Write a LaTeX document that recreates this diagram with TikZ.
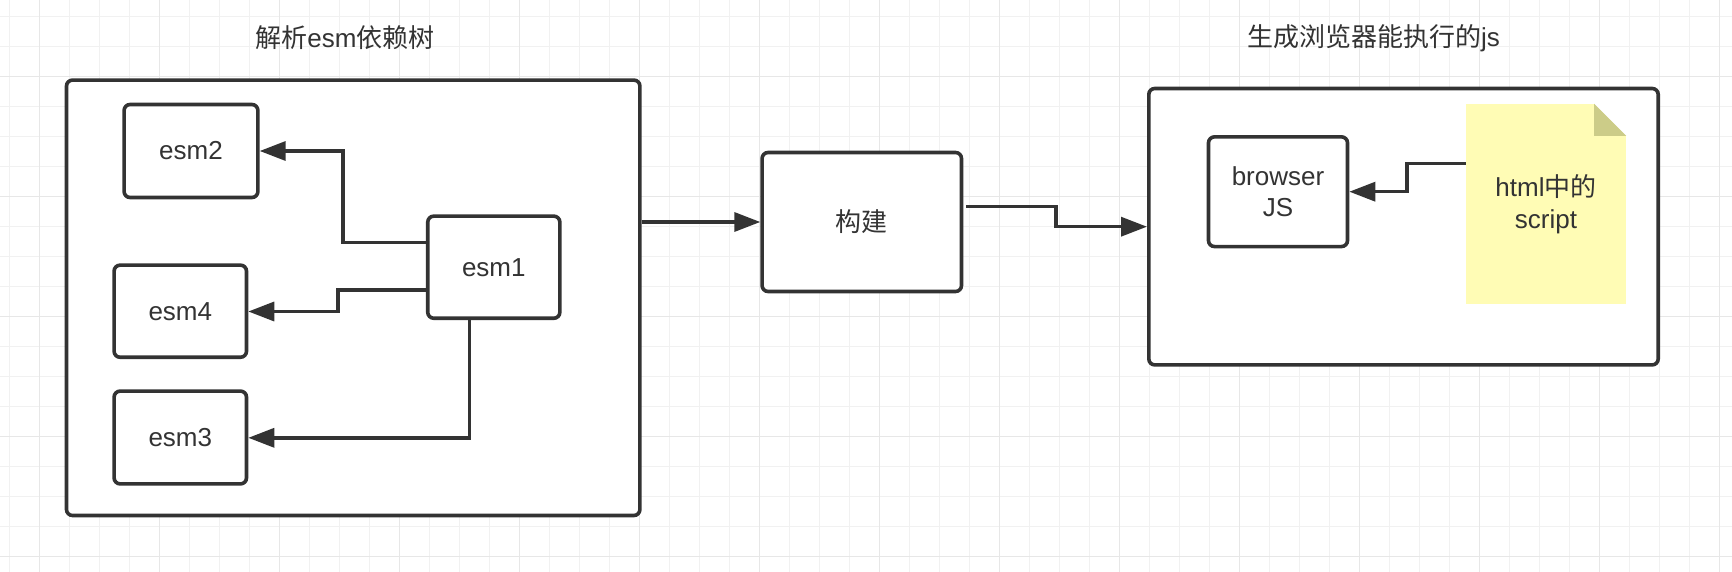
\documentclass[tikz,border=0pt]{standalone}
\usepackage{fontspec}
\setmainfont{Liberation Sans}
\newfontfamily\cjk{Noto Sans CJK SC}
\usetikzlibrary{arrows.meta,calc}
\definecolor{ink}{HTML}{333333}
\definecolor{gridminor}{HTML}{F1F1F1}
\definecolor{gridmajor}{HTML}{E7E7E7}
\definecolor{notefill}{HTML}{FFFCB5}
\definecolor{notefold}{HTML}{CCCC88}
\newcommand{\lbl}[1]{\raisebox{-2pt}{#1}}
\begin{document}
\begin{tikzpicture}[x=1pt,y=-1pt,
  box/.style={draw=ink, line width=3.6pt, fill=white, rounded corners=6pt, inner sep=0pt, align=center, text=ink, font=\fontsize{26}{31}\selectfont},
  notebox/.style={fill=notefill, inner sep=0pt, align=center, text=ink, font=\fontsize{26}{31.5}\selectfont},
  arr/.style={draw=ink, line width=3.4pt, -{Triangle[length=26pt,width=19pt]}},
  ttl/.style={text=ink, font=\fontsize{26}{31}\selectfont, inner sep=0pt}]
\fill[white] (0,0) rectangle (1732,572);
\useasboundingbox (0,0) rectangle (1732,572);
\foreach \i in {0,...,57} \draw[gridminor, line width=1.2pt] ({9.3+30*\i},0) -- ({9.3+30*\i},572);
\foreach \j in {0,...,18} \draw[gridminor, line width=1.2pt] (0,{16.7+30*\j}) -- (1732,{16.7+30*\j});
\foreach \i in {0,...,14} \draw[gridmajor, line width=1.4pt] ({39.3+120*\i},0) -- ({39.3+120*\i},572);
\foreach \j in {0,...,4} \draw[gridmajor, line width=1.4pt] (0,{76.7+120*\j}) -- (1732,{76.7+120*\j});

% titles
\node[ttl] (t1) at (345,37.8) {{\cjk 解析}esm{\cjk 依赖树}};
\node[ttl] (t2) at (1373.5,37.8) {{\cjk 生成浏览器能执行的}js};

% left group
\node[box, minimum width=573.4, minimum height=435.4] (outer) at (353.2,297.8) {};
\node[box, minimum width=133.8, minimum height=93] (esm2) at (191,151) {\lbl{esm2}};
\node[box, minimum width=132.4, minimum height=92.1] (esm4) at (180.3,311.2) {\lbl{esm4}};
\node[box, minimum width=132.4, minimum height=92.8] (esm3) at (180.3,437.5) {\lbl{esm3}};
\node[box, minimum width=132.1, minimum height=102.1] (esm1) at (493.8,267.2) {\lbl{esm1}};

% build
\node[box, minimum width=199.4, minimum height=139] (build) at (861.8,222) {{\cjk 构建}};

% right group
\node[box, minimum width=509.4, minimum height=276.4] (right) at (1403.5,226.7) {};
\node[box, minimum width=139, minimum height=109.7] (browser) at (1278,191.7) {browser\\JS};
\node[notebox, minimum width=160, minimum height=200] (note) at (1546,204) {html{\cjk 中的}\\script};
\fill[white] (note.north east) -- ($(note.north east)+(-32,0)$) -- ($(note.north east)+(0,32)$) -- cycle;
\fill[notefold] ($(note.north east)+(-32,0)$) -- ($(note.north east)+(-32,32)$) -- ($(note.north east)+(0,32)$) -- cycle;

% connectors
\coordinate (y1) at (0,242.7);
\coordinate (k2) at (343,151);
\draw[arr] (esm1.west |- y1) -| (k2) -- (k2 -| esm2.east);
\coordinate (y2) at (0,290);
\coordinate (k4) at (338,311.5);
\draw[arr] (esm1.west |- y2) -| (k4) -- (k4 -| esm4.east);
\coordinate (k3) at (469.3,437.8);
\draw[arr] (k3 |- esm1.south) -- (k3) -- (k3 -| esm3.east);
\draw[arr] (outer.east |- build.west) -- (build.west);
\coordinate (y5) at (0,206.3);
\coordinate (k5) at (1056,0);
\coordinate (s5) at ($(build.east |- y5)+(3,0)$);
\draw[arr] (s5) -| (k5 |- right.west) -- (right.west);
\coordinate (y6) at (0,163.7);
\coordinate (k6) at (1407,0);
\draw[arr] (note.west |- y6) -| (k6 |- browser.east) -- (browser.east);
\end{tikzpicture}
\end{document}
